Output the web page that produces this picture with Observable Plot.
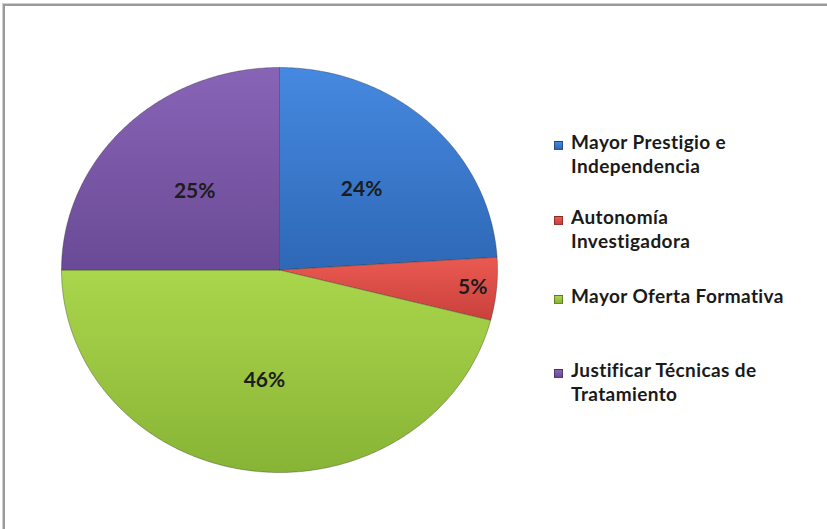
<!DOCTYPE html>
<html><head><meta charset="utf-8">
<script src="https://cdn.jsdelivr.net/npm/d3@7"></script>
<script src="https://cdn.jsdelivr.net/npm/@observablehq/plot@0.6"></script>
<style>
body{margin:0;background:#fff;}
#wrap{position:relative;width:827px;height:529px;overflow:hidden;background:#fff;}
#frame{position:absolute;left:3px;top:4px;width:900px;height:600px;border-left:2px solid #9a9a9a;border-top:2px solid #9a9a9a;box-shadow:-1px -1px 0 #d0d0d0;}
#chart{position:absolute;left:0;top:0;}
.leg{position:absolute;left:571px;font-family:Lato,"DejaVu Sans",sans-serif;font-weight:bold;font-size:19px;letter-spacing:0.4px;line-height:24px;color:#1a1a1a;white-space:nowrap;}
.sw{position:absolute;width:7px;height:7px;left:-17px;top:11px;border:0.5px solid rgba(0,0,0,0.35);}
</style></head><body>
<div id="wrap"><div id="frame"></div><div id="chart"></div></div>
<script>
const categories = ["Mayor Prestigio e Independencia", "Autonomía Investigadora", "Mayor Oferta Formativa", "Justificar Técnicas de Tratamiento"];
const legendLines = [["Mayor Prestigio e", "Independencia"], ["Autonomía", "Investigadora"], ["Mayor Oferta Formativa"], ["Justificar Técnicas de", "Tratamiento"]];
const values = [24, 5, 46, 25];
const colorsTop = ["#4689e0", "#ea5a52", "#aad64c", "#8864b6"];
const colorsBottom = ["#2e68b6", "#c9403b", "#88b436", "#6a4a96"];

const total = d3.sum(values);
const slicePts = [];
const labels = [];
let cum = 0;
values.forEach((v, i) => {
  const a0 = cum / total * 2 * Math.PI;
  cum += v;
  const a1 = cum / total * 2 * Math.PI;
  const cat = categories[i];
  slicePts.push({cat, x: 0, y: 0});
  const n = Math.max(2, Math.ceil((a1 - a0) / 0.01));
  for (let k = 0; k <= n; k++) {
    const a = a0 + (a1 - a0) * k / n;
    slicePts.push({cat, x: Math.sin(a), y: Math.cos(a)});
  }
  slicePts.push({cat, x: 0, y: 0});
  const am = (a0 + a1) / 2;
  const f = v < 10 ? 0.89 : 0.55;
  labels.push({cat, text: v + "%", x: f * Math.sin(am), y: f * Math.cos(am)});
});

const W = 827, H = 529;
const cx = 279, cy = 269.5, rx = 218, ry = 202.5;

const plot = Plot.plot({
  width: W, height: H,
  margin: 0,
  x: {domain: [-cx / rx, (W - cx) / rx], axis: null},
  y: {domain: [-(H - cy) / ry, cy / ry], axis: null},
  color: {domain: categories, range: categories.map((c, i) => `url(#g${i})`)},
  style: {fontFamily: "Lato, 'DejaVu Sans', sans-serif", background: "transparent"},
  marks: [
    Plot.line(slicePts, {x: "x", y: "y", z: "cat", fill: "cat", stroke: "rgba(40,40,40,0.35)", strokeWidth: 1, curve: "linear"}),
    Plot.text(labels, {x: "x", y: "y", text: "text", fontWeight: "bold", fontSize: 21, fill: "#1c1c1c"})
  ]
});

const svg = d3.select(plot);
const defs = svg.insert("defs", ":first-child");
categories.forEach((c, i) => {
  const g = defs.append("linearGradient").attr("id", `g${i}`).attr("x1", 0).attr("y1", 0).attr("x2", 0).attr("y2", 1);
  g.append("stop").attr("offset", "0%").attr("stop-color", colorsTop[i]);
  g.append("stop").attr("offset", "100%").attr("stop-color", colorsBottom[i]);
});
document.getElementById("chart").appendChild(plot);

const legendTops = [130, 205, 284, 358];
const wrap = document.getElementById("wrap");
legendLines.forEach((lines, i) => {
  const d = document.createElement("div");
  d.className = "leg";
  d.style.top = legendTops[i] + "px";
  const sw = document.createElement("div");
  sw.className = "sw";
  sw.style.background = `linear-gradient(${colorsTop[i]}, ${colorsBottom[i]})`;
  d.appendChild(sw);
  lines.forEach(t => { const l = document.createElement("div"); l.textContent = t; d.appendChild(l); });
  wrap.appendChild(d);
});
</script>
</body></html>
